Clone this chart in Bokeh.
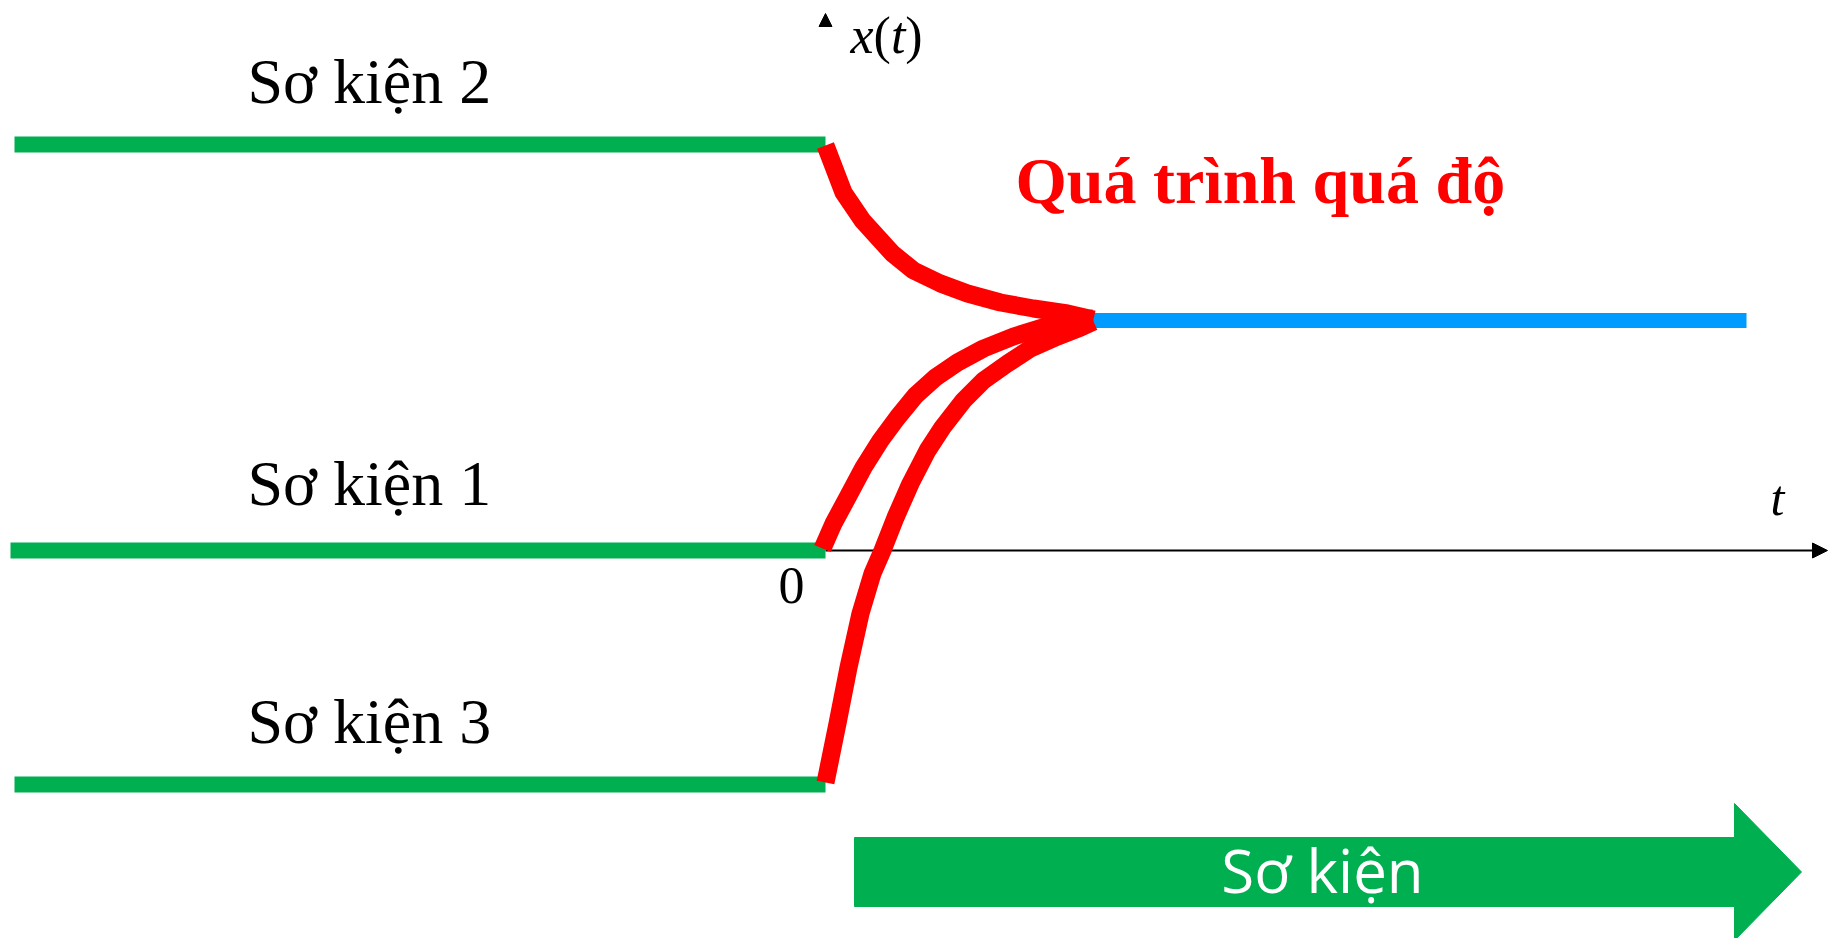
from bokeh.plotting import figure
from bokeh.models import Range1d, Arrow, NormalHead, ColumnDataSource
from bokeh.core.properties import value
from bokeh.embed import file_html
from bokeh.resources import INLINE

# ---- data (t in units of 100 px, x(t) in units of 100 px; origin at axis crossing) ----
event_labels = ["Sơ kiện 2", "Sơ kiện 1", "Sơ kiện 3"]
event_levels = [4.06, 0.0, -2.34]
event_t_start = [-8.11, -8.15, -8.11]
event_t_end = [0.0, 0.0, 0.0]
label_t = [-5.78, -5.78, -5.78]
label_x = [4.47, 0.45, -1.93]

steady_t = [2.68, 9.21]
steady_x = [2.30, 2.30]

curve2_t = [0.00, 0.18, 0.37, 0.67, 0.88, 1.15, 1.42, 1.75, 2.08, 2.42, 2.68]
curve2_x = [4.05, 3.58, 3.30, 2.97, 2.80, 2.67, 2.57, 2.48, 2.42, 2.37, 2.31]

curve1_t = [-0.03, 0.08, 0.22, 0.38, 0.55, 0.72, 0.90, 1.10, 1.32, 1.58, 1.88, 2.20, 2.48, 2.68]
curve1_x = [0.02, 0.27, 0.53, 0.83, 1.10, 1.33, 1.55, 1.73, 1.88, 2.02, 2.14, 2.24, 2.30, 2.32]

curve3_t = [0.00, 0.12, 0.23, 0.35, 0.47, 0.57, 0.70, 0.85, 1.02, 1.17, 1.38, 1.58, 1.82, 2.05, 2.32, 2.55, 2.68]
curve3_x = [-2.32, -1.73, -1.17, -0.63, -0.23, 0.00, 0.33, 0.67, 1.00, 1.23, 1.50, 1.70, 1.87, 2.02, 2.14, 2.23, 2.29]

# big "Sơ kiện" arrow
banner_t = [0.29, 9.09, 9.76]        # body start, head base, tip
banner_x = [-2.87, -3.56, -2.53, -3.90]  # body top, body bottom, head top, head bottom
banner_label = "Sơ kiện"
title_label = "Quá trình quá độ"

# y-axis label "x(t)" set as math: italic letters, upright parentheses
xt_parts = ["x", "(", "t", ")"]
xt_styles = ["italic", "normal", "italic", "normal"]
xt_advance_em = [0.444, 0.333, 0.278, 0.333]

GREEN = "#00AF50"
RED = "#FF0000"
BLUE = "#009BFF"


def lift(font_px):
    # bokeh places the alphabetic baseline a little low; compensate (in data units)
    return 0.35 * font_px / 100.0


W, H = 1834, 938
p = figure(width=W, height=H, output_backend="svg", toolbar_location=None,
           x_axis_type=None, y_axis_type=None, min_border=0,
           x_range=Range1d(-8.25, 10.09), y_range=Range1d(-3.88, 5.50))
p.grid.visible = False
p.outline_line_color = None
p.background_fill_color = "white"
p.border_fill_color = "white"

# time axis (drawn underneath the curves)
p.add_layout(Arrow(x_start=0, y_start=0, x_end=10.02, y_end=0, line_width=2, line_color="black",
                   end=NormalHead(size=15, fill_color="black", line_color="black"), level="underlay"))
# x(t) axis head only
p.add_layout(Arrow(x_start=0, y_start=5.20, x_end=0, y_end=5.37, line_alpha=0,
                   end=NormalHead(size=13, fill_color="black", line_color="black")))

# pre-event levels
for t0, t1, lv in zip(event_t_start, event_t_end, event_levels):
    p.line([t0, t1], [lv, lv], line_color=GREEN, line_width=16)

# steady state
p.line(steady_t, steady_x, line_color=BLUE, line_width=15)

# transients
for ct, cx in [(curve2_t, curve2_x), (curve1_t, curve1_x), (curve3_t, curve3_x)]:
    p.line(ct, cx, line_color=RED, line_width=18, line_join="round")

# banner arrow
bx = [banner_t[0], banner_t[1], banner_t[1], banner_t[2], banner_t[1], banner_t[1], banner_t[0]]
by = [banner_x[0], banner_x[0], banner_x[2], (banner_x[0] + banner_x[1]) / 2, banner_x[3], banner_x[1], banner_x[1]]
p.patch(bx, by, fill_color=GREEN, line_color=GREEN, line_width=1)
p.text(x=[4.97], y=[-3.40 + lift(60)], text=[banner_label],
       text_font=value("Open Sans"), text_font_size="60px", text_color="white",
       text_align="center", text_baseline="alphabetic")

# labels
p.text(x=label_t, y=[v + lift(64) for v in label_x], text=event_labels, text_font=value("Liberation Serif"),
       text_font_size="64px", text_color="black", text_align="left", text_baseline="alphabetic")
p.text(x=[1.90], y=[3.47 + lift(66)], text=[title_label], text_font=value("Liberation Serif"),
       text_font_size="66px", text_font_style="bold", text_color=RED,
       text_align="left", text_baseline="alphabetic")

XT_PX = 52
xt_pos = [0.25]
for adv in xt_advance_em[:-1]:
    xt_pos.append(xt_pos[-1] + adv * XT_PX / 100.0)
xt_src = ColumnDataSource(dict(x=xt_pos, y=[4.97 + lift(XT_PX)] * len(xt_parts),
                               text=xt_parts, style=xt_styles))
p.text(x="x", y="y", text="text", source=xt_src, text_font=value("Liberation Serif"),
       text_font_size=f"{XT_PX}px", text_font_style="style", text_color="black",
       text_align="left", text_baseline="alphabetic")

p.text(x=[9.45], y=[0.35 + lift(50)], text=["t"], text_font=value("Liberation Serif"),
       text_font_size="50px", text_font_style="italic", text_color="black",
       text_align="left", text_baseline="alphabetic")
p.text(x=[-0.34], y=[-0.53 + lift(52)], text=["0"], text_font=value("Liberation Serif"),
       text_font_size="52px", text_color="black",
       text_align="center", text_baseline="alphabetic")

open("out.html", "w").write(file_html(p, INLINE))
